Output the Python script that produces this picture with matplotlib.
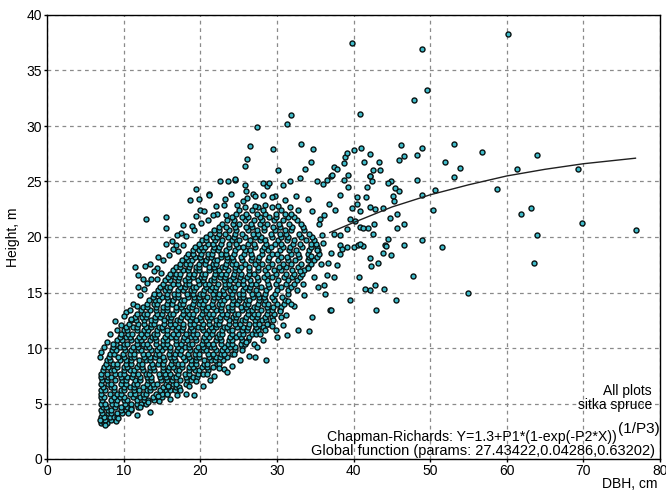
import matplotlib
matplotlib.use("Agg")
import matplotlib.pyplot as plt
import numpy as np

plt.rcParams['font.family'] = ['Liberation Sans', 'DejaVu Sans']

# dense part of the cloud, one row per height (m) -> DBH values (cm)
core_rows = [
    (3.2, [7.0, 7.4, 7.8]),
    (3.5, [7.1, 7.6, 8.3]),
    (3.8, [7.0, 7.5, 8.2, 8.7, 9.1]),
    (4.1, [7.2, 7.9, 8.3, 9.2, 9.8]),
    (4.4, [7.0, 7.9, 8.4, 9.6, 10.3, 11.0]),
    (4.7, [7.3, 7.7, 8.9, 9.6, 10.5, 11.0, 11.9]),
    (5.0, [7.0, 7.6, 8.5, 9.0, 10.2, 10.9, 11.8, 12.3, 12.9]),
    (5.3, [7.2, 8.4, 9.1, 10.1, 10.5, 11.8, 12.6, 13.2, 13.9]),
    (5.6, [7.0, 7.4, 8.7, 9.5, 10.1, 11.2, 12.1, 12.6, 13.8, 14.5, 15.0]),
    (5.9, [7.1, 8.2, 9.1, 9.6, 10.8, 11.5, 12.5, 12.9, 14.2, 15.0, 15.6]),
    (6.2, [7.0, 7.6, 8.7, 9.6, 10.1, 11.3, 12.0, 13.0, 13.4, 14.7, 15.5, 16.1, 16.7]),
    (6.5, [7.3, 8.3, 8.7, 10.0, 10.8, 11.4, 12.5, 13.4, 13.9, 15.1, 15.8, 16.8, 17.2]),
    (6.8, [7.0, 7.9, 8.4, 9.6, 10.3, 11.3, 11.7, 13.0, 13.8, 14.4, 15.5, 16.4, 16.9, 18.1]),
    (7.1, [7.2, 7.8, 8.9, 9.8, 10.3, 11.5, 12.2, 13.2, 13.6, 14.9, 15.7, 16.3, 17.4, 18.3, 18.8]),
    (7.4, [7.0, 8.0, 8.4, 9.7, 10.5, 11.1, 12.2, 13.1, 13.6, 14.8, 15.5, 16.5, 16.9, 18.2, 19.0, 19.6]),
    (7.7, [7.1, 7.8, 8.9, 9.5, 10.0, 11.2, 11.9, 12.9, 13.3, 14.6, 15.4, 16.0, 17.1, 18.0, 18.5, 19.7, 20.4]),
    (8.0, [7.3, 8.3, 8.7, 10.0, 10.8, 11.4, 12.5, 13.4, 13.9, 15.1, 15.8, 16.8, 17.2, 18.5, 19.3, 19.9, 21.0]),
    (8.3, [7.4, 8.0, 9.1, 10.0, 10.5, 11.7, 12.4, 13.4, 13.8, 15.1, 15.9, 16.5, 17.6, 18.5, 19.0, 20.2, 20.9, 21.7]),
    (8.6, [7.7, 8.6, 9.1, 10.3, 11.0, 12.0, 12.4, 13.7, 14.5, 15.1, 16.2, 17.1, 17.6, 18.8, 19.5, 20.5, 20.9, 22.2]),
    (8.9, [7.8, 8.2, 9.5, 10.3, 10.9, 12.0, 12.9, 13.4, 14.6, 15.3, 16.3, 16.7, 18.0, 18.8, 19.4, 20.5, 21.4, 21.9, 23.0]),
    (9.2, [8.1, 9.3, 10.0, 11.0, 11.4, 12.7, 13.5, 14.1, 15.2, 16.1, 16.6, 17.8, 18.5, 19.5, 19.9, 21.2, 22.0, 22.6, 23.5]),
    (9.5, [8.2, 8.8, 9.9, 10.8, 11.3, 12.5, 13.2, 14.2, 14.6, 15.9, 16.7, 17.3, 18.4, 19.3, 19.8, 21.0, 21.7, 22.7, 23.1, 24.2]),
    (9.8, [8.5, 9.0, 10.2, 10.9, 11.9, 12.3, 13.6, 14.4, 15.0, 16.1, 17.0, 17.5, 18.7, 19.4, 20.4, 20.8, 22.1, 22.9, 23.5, 24.6]),
    (10.1, [8.6, 9.5, 10.0, 11.2, 11.9, 12.9, 13.3, 14.6, 15.4, 16.0, 17.1, 18.0, 18.5, 19.7, 20.4, 21.4, 21.8, 23.1, 23.9, 24.5, 25.4]),
    (10.4, [9.0, 10.0, 10.4, 11.7, 12.5, 13.1, 14.2, 15.1, 15.6, 16.8, 17.5, 18.5, 18.9, 20.2, 21.0, 21.6, 22.7, 23.6, 24.1, 25.3, 25.9]),
    (10.7, [9.2, 9.8, 10.9, 11.8, 12.3, 13.5, 14.2, 15.2, 15.6, 16.9, 17.7, 18.3, 19.4, 20.3, 20.8, 22.0, 22.7, 23.7, 24.1, 25.4, 26.2]),
    (11.0, [9.5, 10.3, 10.8, 12.0, 12.7, 13.7, 14.1, 15.4, 16.2, 16.8, 17.9, 18.8, 19.3, 20.5, 21.2, 22.2, 22.6, 23.9, 24.7, 25.3, 26.4]),
    (11.3, [9.7, 10.6, 11.1, 12.3, 13.0, 14.0, 14.4, 15.7, 16.5, 17.1, 18.2, 19.1, 19.6, 20.8, 21.5, 22.5, 22.9, 24.2, 25.0, 25.6, 26.7, 27.3]),
    (11.6, [10.1, 10.5, 11.8, 12.6, 13.2, 14.3, 15.2, 15.7, 16.9, 17.6, 18.6, 19.0, 20.3, 21.1, 21.7, 22.8, 23.7, 24.2, 25.4, 26.1, 27.1, 27.5]),
    (11.9, [10.3, 11.2, 11.7, 12.9, 13.6, 14.6, 15.0, 16.3, 17.1, 17.7, 18.8, 19.7, 20.2, 21.4, 22.1, 23.1, 23.5, 24.8, 25.6, 26.2, 27.3, 28.2]),
    (12.2, [10.7, 11.9, 12.6, 13.6, 14.0, 15.3, 16.1, 16.7, 17.8, 18.7, 19.2, 20.4, 21.1, 22.1, 22.5, 23.8, 24.6, 25.2, 26.3, 27.2, 27.7, 28.8]),
    (12.5, [11.0, 11.6, 12.7, 13.6, 14.1, 15.3, 16.0, 17.0, 17.4, 18.7, 19.5, 20.1, 21.2, 22.1, 22.6, 23.8, 24.5, 25.5, 25.9, 27.2, 28.0, 28.6]),
    (12.8, [11.5, 12.4, 12.9, 14.1, 14.8, 15.8, 16.2, 17.5, 18.3, 18.9, 20.0, 20.9, 21.4, 22.6, 23.3, 24.3, 24.7, 26.0, 26.8, 27.4, 28.5, 29.4]),
    (13.1, [11.8, 12.6, 13.1, 14.3, 15.0, 16.0, 16.4, 17.7, 18.5, 19.1, 20.2, 21.1, 21.6, 22.8, 23.5, 24.5, 24.9, 26.2, 27.0, 27.6, 28.7, 29.6]),
    (13.4, [12.3, 13.5, 14.2, 15.2, 15.6, 16.9, 17.7, 18.3, 19.4, 20.3, 20.8, 22.0, 22.7, 23.7, 24.1, 25.4, 26.2, 26.8, 27.9, 28.8, 29.3, 30.4]),
    (13.7, [12.5, 13.1, 14.2, 15.1, 15.6, 16.8, 17.5, 18.5, 18.9, 20.2, 21.0, 21.6, 22.7, 23.6, 24.1, 25.3, 26.0, 27.0, 27.4, 28.7, 29.5, 30.6]),
    (14.0, [13.0, 13.9, 14.4, 15.6, 16.3, 17.3, 17.7, 19.0, 19.8, 20.4, 21.5, 22.4, 22.9, 24.1, 24.8, 25.8, 26.2, 27.5, 28.3, 28.9, 30.0, 30.9]),
    (14.3, [13.3, 14.1, 14.6, 15.8, 16.5, 17.5, 17.9, 19.2, 20.0, 20.6, 21.7, 22.6, 23.1, 24.3, 25.0, 26.0, 26.4, 27.7, 28.5, 29.6, 31.1]),
    (14.6, [13.8, 15.0, 15.7, 16.7, 17.1, 18.4, 19.2, 19.8, 20.9, 21.8, 22.3, 23.5, 24.2, 25.2, 25.6, 26.9, 27.7, 28.3, 29.4, 30.7]),
    (14.9, [14.0, 14.6, 15.7, 16.6, 17.1, 18.3, 19.0, 20.0, 20.4, 21.7, 22.5, 23.1, 24.2, 25.1, 25.6, 26.8, 27.5, 28.5, 29.8, 31.4]),
    (15.2, [14.5, 15.4, 15.9, 17.1, 17.8, 18.8, 19.2, 20.5, 21.3, 21.9, 23.0, 23.9, 24.4, 25.6, 26.3, 27.3, 28.6, 30.0, 31.5]),
    (15.5, [14.8, 15.6, 16.1, 17.3, 18.0, 19.0, 19.4, 20.7, 21.5, 22.1, 23.2, 24.1, 24.6, 25.8, 26.5, 27.9, 29.0, 30.6, 31.9]),
    (15.8, [15.2, 16.4, 17.1, 18.1, 18.5, 19.8, 20.6, 21.2, 22.3, 23.2, 23.7, 24.9, 25.6, 26.6, 27.3, 28.8, 29.9, 31.2, 32.3]),
    (16.1, [15.4, 16.0, 17.1, 18.0, 18.5, 19.7, 20.4, 21.4, 21.8, 23.1, 23.9, 24.5, 25.6, 26.5, 27.6, 28.7, 30.1, 31.4, 32.6]),
    (16.4, [15.8, 16.7, 17.2, 18.4, 19.1, 20.1, 20.5, 21.8, 22.6, 23.2, 24.3, 25.2, 26.1, 27.4, 28.3, 29.4, 30.9, 32.0, 33.0]),
    (16.7, [16.0, 16.8, 17.3, 18.5, 19.2, 20.2, 20.6, 21.9, 22.7, 23.3, 24.4, 25.3, 26.4, 27.0, 28.7, 29.9, 31.2, 32.3, 33.3]),
    (17.0, [16.5, 17.7, 18.4, 19.4, 19.8, 21.1, 21.9, 22.5, 23.6, 24.5, 25.0, 26.3, 27.6, 28.4, 29.6, 30.6, 32.0, 33.6]),
    (17.3, [16.8, 17.4, 18.5, 19.4, 19.9, 21.1, 21.8, 22.8, 23.2, 24.5, 25.3, 26.4, 27.6, 28.9, 30.3, 31.2, 32.8, 34.1]),
    (17.6, [17.3, 18.2, 18.7, 19.9, 20.6, 21.6, 22.0, 23.3, 24.1, 24.7, 25.9, 27.2, 28.1, 29.4, 30.8, 31.9, 33.1, 34.5]),
    (17.9, [17.6, 18.4, 18.9, 20.1, 20.8, 21.8, 22.2, 23.5, 24.3, 25.4, 26.6, 27.5, 28.9, 30.1, 31.5, 32.4, 34.0, 34.9]),
    (18.2, [18.1, 19.3, 20.0, 21.0, 21.4, 22.7, 23.5, 24.1, 25.3, 26.8, 27.7, 29.0, 30.5, 31.3, 32.9, 34.2, 35.2]),
    (18.5, [18.4, 19.0, 20.1, 21.0, 21.5, 22.7, 23.4, 24.4, 25.7, 26.6, 28.1, 29.3, 30.0, 31.8, 32.7, 34.1, 35.5]),
    (18.8, [19.0, 19.9, 20.4, 21.6, 22.3, 23.3, 24.6, 25.8, 26.5, 28.0, 28.9, 30.4, 31.6, 32.5, 34.2, 35.4]),
    (19.1, [19.3, 20.1, 20.6, 21.8, 22.5, 23.7, 24.9, 25.6, 27.1, 28.3, 29.2, 30.8, 31.7, 33.3, 34.5, 35.3]),
    (19.4, [19.8, 21.0, 21.7, 22.7, 23.8, 24.7, 26.2, 27.0, 28.6, 29.7, 30.5, 32.1, 33.0, 34.4, 35.1]),
    (19.7, [20.2, 20.8, 21.9, 22.8, 24.1, 25.0, 26.5, 27.8, 28.5, 30.1, 31.3, 32.2, 33.8, 34.9]),
    (20.0, [20.8, 21.7, 22.2, 23.6, 24.4, 25.9, 27.2, 27.9, 29.4, 30.6, 31.5, 33.1, 34.6]),
    (20.3, [21.3, 22.5, 23.2, 24.6, 25.5, 26.9, 27.6, 29.2, 30.4, 31.2, 32.9, 34.2]),
    (20.6, [21.8, 22.4, 23.8, 24.7, 26.2, 27.4, 28.3, 29.8, 31.0, 31.9, 33.5]),
    (20.9, [22.4, 23.3, 24.6, 26.0, 26.8, 28.3, 29.5, 30.4, 32.0, 33.4]),
    (21.2, [22.9, 24.3, 25.1, 26.6, 27.8, 28.7, 30.3, 31.6, 33.1]),
    (21.5, [23.5, 24.4, 25.9, 27.0, 28.0, 29.6, 30.8, 32.6]),
    (21.8, [24.1, 25.4, 26.2, 27.8, 29.0, 29.9, 31.5, 32.3]),
    (22.1, [24.7, 26.0, 27.4, 28.4, 29.9, 31.1, 31.9]),
    (22.4, [25.1, 26.8, 28.2, 30.6, 32.8]),
    (22.7, [25.9, 27.5, 29.3, 31.7]),
]

# looser trees along the rim of the dense band, (DBH cm, height m)
fringe_trees = [
    (9.0, 3.4), (10.9, 4.5), (11.8, 4.0), (13.2, 5.1), (14.6, 5.2), (16.0, 5.4),
    (15.8, 6.6), (17.0, 5.8), (18.5, 6.6), (19.5, 7.0), (20.3, 6.6), (20.9, 7.7),
    (21.8, 7.5), (22.5, 8.6), (23.1, 8.1), (24.1, 8.4), (24.4, 9.5), (25.5, 9.8),
    (26.0, 10.5), (27.0, 10.4), (27.8, 11.3), (28.5, 11.6), (29.3, 12.0), (29.9, 11.6),
    (30.4, 13.3), (31.2, 13.0), (31.5, 14.2), (32.2, 13.8), (32.6, 15.2), (33.4, 15.8),
    (33.0, 16.9), (34.0, 17.2), (34.5, 18.3), (35.3, 18.8), (35.9, 20.2), (35.6, 21.6),
    (34.6, 22.3), (34.0, 23.4), (32.5, 23.7), (31.0, 23.3), (30.2, 22.8), (28.5, 22.9),
    (27.1, 22.8), (26.1, 23.5), (24.0, 23.9), (23.2, 23.4), (22.0, 22.8),
    (7.4, 10.1), (7.8, 10.5), (8.6, 10.4), (9.1, 11.6), (9.6, 12.1), (10.3, 13.2),
    (10.9, 12.6), (11.2, 14.0), (11.7, 13.8), (12.2, 14.8), (12.7, 15.3), (13.1, 15.9),
    (13.6, 16.2), (14.3, 17.2), (14.9, 16.8), (15.2, 17.9), (15.9, 18.4), (16.3, 19.6),
    (16.8, 19.3), (17.5, 20.4), (18.2, 20.1), (18.9, 21.0), (19.2, 20.6), (20.0, 22.4),
    (21.0, 21.5), (22.2, 22.1), (23.4, 22.0),
]

# scattered trees around the cloud, (DBH cm, height m)
edge_trees = [
    (6.9, 3.5), (7.6, 3.1), (9.3, 3.7), (10.6, 4.1), (12.1, 4.7), (13.4, 4.2),
    (14.5, 5.7), (15.6, 5.9), (17.4, 6.2), (18.2, 5.9), (19.2, 5.8), (21.3, 7.1),
    (22.4, 8.2), (23.5, 7.8), (25.2, 8.9), (26.3, 9.3), (27.2, 9.2), (28.6, 8.9),
    (27.4, 10.1), (28.2, 10.7), (30.0, 11.0), (31.3, 11.2), (32.8, 11.6), (34.2, 11.5),
    (34.6, 12.8), (36.9, 13.4), (31.9, 14.0), (30.8, 12.1), (30.6, 12.8), (29.5, 12.5),
    (28.7, 12.2), (6.9, 9.2), (7.0, 9.6), (8.2, 11.3), (8.9, 12.4), (10.0, 12.9),
    (10.8, 13.4), (11.9, 15.5), (11.9, 16.6), (11.5, 17.3), (12.9, 21.6), (15.5, 20.8),
    (15.5, 21.8), (15.5, 19.4), (13.5, 17.6), (12.8, 17.4), (14.5, 18.2), (14.0, 16.9),
    (14.4, 16.2), (12.5, 16.2), (16.4, 18.9), (17.0, 20.2), (17.8, 21.1), (18.6, 23.3),
    (19.5, 24.3), (19.8, 23.4), (21.1, 23.9), (20.1, 21.3), (20.5, 22.3), (23.1, 22.9),
    (24.8, 22.9), (19.4, 21.9), (21.6, 22.0), (17.8, 19.3), (17.1, 18.7),
    (22.6, 25.0), (23.6, 25.0), (24.5, 25.1), (25.8, 26.4), (26.1, 27.0), (26.5, 28.2),
    (27.4, 29.9), (29.5, 27.9), (30.2, 26.0), (31.3, 30.2), (31.9, 31.0), (33.2, 28.4),
    (34.7, 27.9), (34.4, 26.8), (33.7, 26.1), (28.2, 24.9), (28.7, 24.6), (29.0, 24.9),
    (29.8, 23.7), (26.9, 23.9), (25.8, 24.7), (21.1, 23.8), (27.2, 23.7), (28.2, 23.8),
    (29.3, 23.6), (25.6, 23.2), (30.8, 24.7), (31.7, 25.0), (33.0, 25.3), (35.2, 25.0),
    (36.0, 24.8), (36.5, 25.1), (37.1, 25.5), (26.0, 24.1), (24.5, 25.2),
    (37.5, 26.3), (37.8, 26.1), (38.9, 27.2), (39.1, 27.6), (40.1, 27.8), (41.0, 28.0),
    (42.2, 27.5), (41.4, 26.8), (43.3, 26.8), (42.5, 26.0), (43.5, 26.0), (44.9, 25.0),
    (42.2, 25.5), (38.7, 25.1), (39.3, 24.5), (38.3, 23.8), (41.6, 23.6), (40.4, 23.0),
    (38.8, 26.7), (37.2, 25.6), (39.3, 25.6), (42.1, 25.5), (42.4, 25.0), (41.7, 24.5),
    (40.5, 23.6), (39.8, 22.6), (40.9, 22.3), (42.2, 22.7), (42.8, 22.5), (43.9, 22.6),
    (42.7, 21.2), (41.9, 20.8), (42.6, 20.3), (40.8, 20.9), (41.3, 20.8), (40.2, 21.4),
    (39.6, 21.6), (39.2, 20.7), (38.3, 20.2), (37.4, 20.3), (38.3, 19.3), (40.0, 19.1),
    (41.3, 19.2), (40.6, 19.3), (36.2, 22.0), (35.5, 21.2), (36.8, 23.0), (37.6, 22.4),
    (36.0, 19.5), (37.0, 18.6), (35.8, 17.6), (34.9, 16.4), (35.4, 15.5), (33.5, 14.8),
    (44.5, 24.9), (45.4, 24.4), (45.9, 24.1), (45.1, 23.7), (45.3, 23.2), (45.7, 22.1),
    (44.7, 21.7), (46.6, 21.2), (45.7, 20.8), (44.5, 19.8), (44.1, 19.3), (46.6, 19.3),
    (49.0, 19.7), (51.6, 19.1), (46.2, 28.3), (46.6, 27.3), (46.0, 26.9), (48.3, 27.4),
    (49.0, 28.0), (48.3, 25.1), (48.9, 23.8), (50.7, 24.2), (50.4, 22.4), (51.9, 26.8),
    (53.1, 25.4), (53.9, 26.2), (53.1, 28.4), (56.8, 27.7), (58.7, 24.3), (61.4, 26.1),
    (64.0, 27.4), (69.3, 26.1), (61.8, 22.1), (63.1, 22.6), (63.9, 20.2), (69.8, 21.3),
    (76.9, 20.6), (63.5, 17.7), (55.0, 15.0), (47.7, 16.5), (45.6, 14.3), (44.0, 15.3),
    (42.8, 15.7), (42.1, 15.2), (41.5, 15.3), (43.0, 13.4), (40.7, 16.4), (39.6, 14.3),
    (37.0, 13.4), (43.2, 17.7), (42.3, 17.4), (42.2, 18.1), (44.2, 19.2), (44.9, 18.4),
    (43.8, 18.6), (40.8, 19.4), (39.1, 19.1), (38.3, 18.5), (37.8, 17.5), (37.4, 16.4),
    (36.6, 16.6), (36.3, 14.9), (36.2, 15.7), (36.7, 17.7), (38.5, 18.9),
    (39.8, 37.5), (49.0, 36.9), (60.1, 38.3), (49.6, 33.2), (47.9, 32.3), (40.9, 31.1),
]

# Chapman-Richards global fit
curve_dbh = [36.9, 40, 45, 50, 55, 60, 65, 70, 76.8]
curve_height = [20.4, 21.3, 22.7, 23.8, 24.7, 25.5, 26.1, 26.6, 27.1]

loose = fringe_trees + edge_trees
dbh = [d for h, row in core_rows for d in row] + [p[0] for p in loose]
height = [h for h, row in core_rows for d in row] + [p[1] for p in loose]

fig = plt.figure(figsize=(6.66, 4.92), dpi=100)
ax = fig.add_axes([47 / 666, 1 - 459 / 492, 613 / 666, 444 / 492])

ax.plot(dbh, height, linestyle='none', marker='o', markersize=3.6,
        markerfacecolor='#3fbccb', markeredgecolor='#081212', markeredgewidth=1.0,
        zorder=3)
ax.plot(curve_dbh, curve_height, color='#202020', linewidth=1.0, zorder=4)

ax.set_xlim(0, 80)
ax.set_ylim(0, 40)
ax.set_xticks(np.arange(0, 81, 10))
ax.set_yticks(np.arange(0, 41, 5))
ax.grid(True, color='#8a8a8a', linestyle=(0, (3, 3)), linewidth=0.9)
ax.set_axisbelow(True)
ax.tick_params(direction='out', length=2, width=1, labelsize=10, pad=1.5)
for s in ax.spines.values():
    s.set_linewidth(1.0)
    s.set_color('black')

ax.set_ylabel('Height, m', fontsize=10, labelpad=5)
fig.text(657 / 666, 1 - 484 / 492, 'DBH, cm', ha='right', va='center', fontsize=10)

ax.text(0.987, 0.153, 'All plots', transform=ax.transAxes, ha='right', va='center', fontsize=10)
ax.text(0.987, 0.121, 'sitka spruce', transform=ax.transAxes, ha='right', va='center', fontsize=10)
sup = ax.text(0.999, 0.0676, '(1/P3)', transform=ax.transAxes, ha='right', va='center', fontsize=11)
ax.annotate('Chapman-Richards: Y=1.3+P1*(1-exp(-P2*X))', xy=(0, 0.5), xycoords=sup,
            xytext=(-0.5, -6), textcoords='offset points', ha='right', va='center', fontsize=10.2)
ax.text(0.992, 0.017, 'Global function (params: 27.43422,0.04286,0.63202)',
        transform=ax.transAxes, ha='right', va='center', fontsize=10.5)

fig.savefig('out.png', dpi=100)
